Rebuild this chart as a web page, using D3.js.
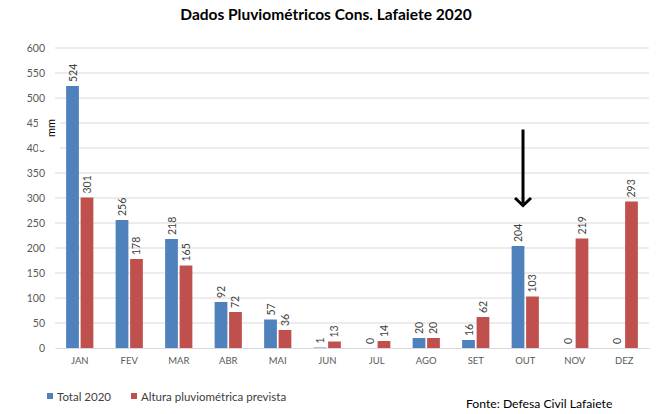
<!DOCTYPE html>
<html>
<head>
<meta charset="utf-8">
<script src="https://cdn.jsdelivr.net/npm/d3@7"></script>
<style>
  body { margin: 0; background: #fff; }
  text { font-family: Lato, "Liberation Sans", sans-serif; }
</style>
</head>
<body>
<div id="chart"></div>
<script>
const months = ["JAN", "FEV", "MAR", "ABR", "MAI", "JUN", "JUL", "AGO", "SET", "OUT", "NOV", "DEZ"];
const total2020 = [524, 256, 218, 92, 57, 1, 0, 20, 16, 204, 0, 0];
const prevista = [301, 178, 165, 72, 36, 13, 14, 20, 62, 103, 219, 293];
const seriesNames = ["Total 2020", "Altura pluviométrica prevista"];
const colors = ["#4F81BD", "#C0504D"];
const yTicks = [0, 50, 100, 150, 200, 250, 300, 350, 400, 450, 500, 550, 600];

const W = 657, H = 414;
const margin = { top: 48, right: 8, bottom: 66, left: 55 };
const width = W - margin.left - margin.right;
const height = H - margin.top - margin.bottom;

const root = d3.select("#chart").append("svg")
  .attr("width", W).attr("height", H);

root.append("rect").attr("width", W).attr("height", H).attr("fill", "#fff");

root.append("text")
  .attr("x", 326).attr("y", 20)
  .attr("text-anchor", "middle")
  .attr("font-size", 15.5).attr("font-weight", "bold")
  .attr("fill", "#000")
  .text("Dados Pluviométricos Cons. Lafaiete 2020");

const svg = root.append("g")
  .attr("transform", `translate(${margin.left},${margin.top})`);

const x = d3.scaleBand().domain(months).range([0, width]).paddingInner(0.45).paddingOuter(0.225);
const x1 = d3.scaleBand().domain([0, 1]).range([0, x.bandwidth()]).paddingInner(0.12);
const y = d3.scaleLinear().domain([0, 600]).range([height, 0]);

// gridlines
svg.append("g")
  .selectAll("line")
  .data(yTicks.slice(1))
  .enter().append("line")
  .attr("x1", 0).attr("x2", width)
  .attr("y1", d => y(d)).attr("y2", d => y(d))
  .attr("stroke", "#d9d9d9").attr("stroke-width", 1);

// y axis
const yAxis = d3.axisLeft(y).tickValues(yTicks).tickSize(0).tickPadding(10);
const yg = svg.append("g").call(yAxis);
yg.select(".domain").remove();
yg.selectAll("text").attr("font-size", 10.5).attr("fill", "#595959")
  .attr("font-family", "Lato, sans-serif");

// x axis
const xAxis = d3.axisBottom(x).tickSize(0).tickPadding(9);
const xg = svg.append("g").attr("transform", `translate(0,${height})`).call(xAxis);
xg.select(".domain").attr("stroke", "#d9d9d9");
xg.selectAll("text").attr("font-size", 9.5).attr("fill", "#595959")
  .attr("font-family", "Lato, sans-serif");

// bars
const seriesData = [total2020, prevista];
seriesData.forEach((vals, s) => {
  const g = svg.append("g");
  g.selectAll("rect")
    .data(vals)
    .enter().append("rect")
    .attr("x", (d, i) => x(months[i]) + x1(s))
    .attr("y", d => y(d))
    .attr("width", x1.bandwidth())
    .attr("height", d => height - y(d))
    .attr("fill", colors[s]);

  g.selectAll("text")
    .data(vals)
    .enter().append("text")
    .attr("transform", (d, i) =>
      `translate(${x(months[i]) + x1(s) + x1.bandwidth() / 2 + 4},${y(d) - 4}) rotate(-90)`)
    .attr("font-size", 10.5)
    .attr("fill", "#404040")
    .text(d => d);
});

// y axis title "mm" with its white box
const mmX = 0, mmY = y(440);
svg.append("rect")
  .attr("x", mmX - 17).attr("y", mmY - 22)
  .attr("width", 22).attr("height", 44)
  .attr("fill", "#fff");
svg.append("text")
  .attr("transform", `translate(${mmX},${mmY}) rotate(-90)`)
  .attr("text-anchor", "middle")
  .attr("font-size", 11)
  .attr("fill", "#000")
  .text("mm");

// arrow over OUT
const ax = x("OUT") + x1(0) + x1.bandwidth() / 2 + 5;
svg.append("line")
  .attr("x1", ax).attr("x2", ax)
  .attr("y1", y(437)).attr("y2", y(290))
  .attr("stroke", "#000").attr("stroke-width", 3);
svg.append("path")
  .attr("d", `M${ax - 8},${y(300)} L${ax},${y(285)} L${ax + 8},${y(300)}`)
  .attr("fill", "none").attr("stroke", "#000").attr("stroke-width", 3)
  .attr("stroke-linejoin", "miter");

// legend
const legend = root.append("g").attr("transform", "translate(47,393)");
const legendX = [0, 84];
seriesNames.forEach((name, i) => {
  const lg = legend.append("g").attr("transform", `translate(${legendX[i]},0)`);
  lg.append("rect").attr("width", 6).attr("height", 6).attr("fill", colors[i]);
  lg.append("text").attr("x", 10).attr("y", 8)
    .attr("font-size", 11.5).attr("fill", "#404040").text(name);
});

root.append("text")
  .attr("x", 466).attr("y", 408)
  .attr("font-size", 12.2).attr("fill", "#000")
  .text("Fonte: Defesa Civil Lafaiete");
</script>
</body>
</html>
